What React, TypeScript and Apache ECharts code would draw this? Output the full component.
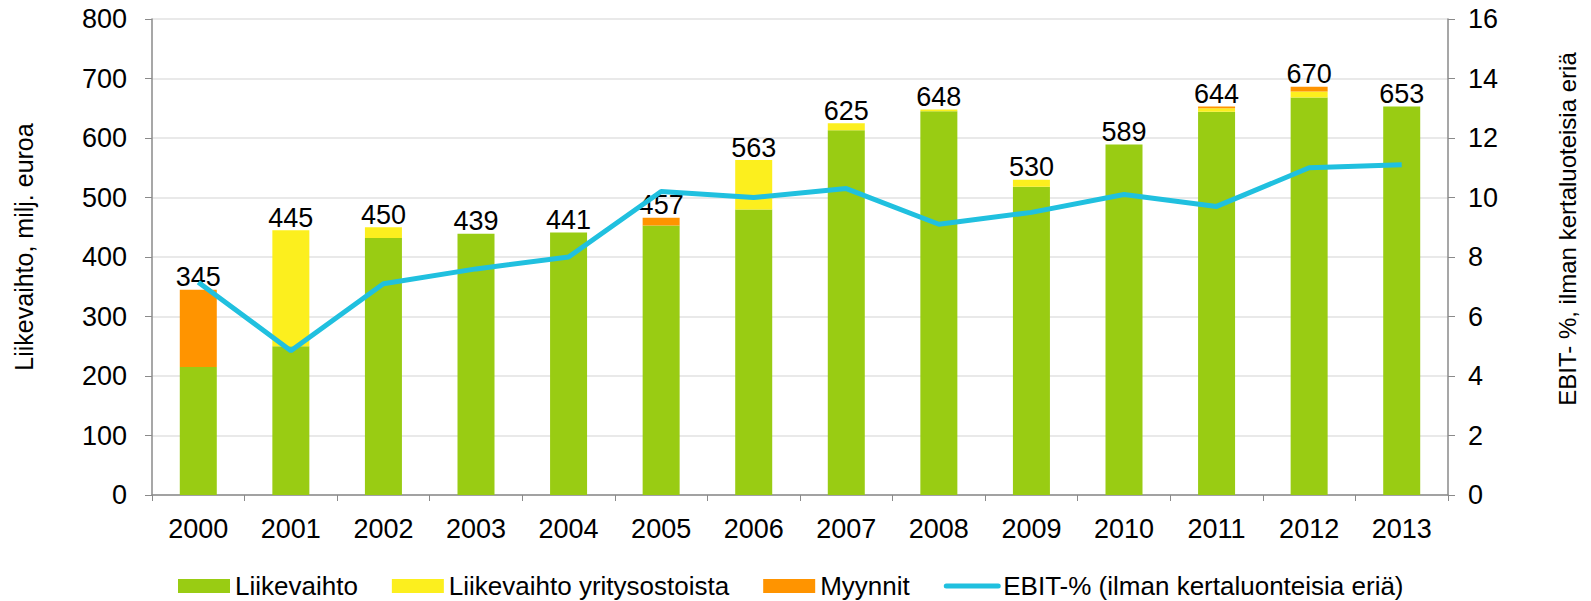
import React, { useEffect, useRef } from "react";
import * as echarts from "echarts";

const years = ["2000", "2001", "2002", "2003", "2004", "2005", "2006", "2007", "2008", "2009", "2010", "2011", "2012", "2013"];
const liikevaihto = [215, 250, 432, 439, 441, 453, 480, 613, 645, 518, 589, 644, 668, 653];
const yritysostoista = [0, 195, 18, 0, 0, 0, 83, 12, 3, 12, 0, 6, 10, 0];
const myynnit = [130, 0, 0, 0, 0, 13, 0, 0, 0, 0, 0, 3, 8, 0];
const totals = [345, 445, 450, 439, 441, 457, 563, 625, 648, 530, 589, 644, 670, 653];
const ebit = [7.15, 4.85, 7.1, 7.6, 8.0, 10.2, 10.0, 10.3, 9.1, 9.5, 10.1, 9.7, 11.0, 11.1];

const FONT = "'Liberation Sans', Arial, sans-serif";

export default function App() {
  const ref = useRef<HTMLDivElement>(null);
  useEffect(() => {
    document.body.style.margin = "0";
    const chart = echarts.init(ref.current!, null, { renderer: "svg" });
    const axisLineColor = "#8a8a8a";
    chart.setOption({
      animation: false,
      textStyle: { fontFamily: FONT },
      grid: { left: 152, right: 143, top: 19, bottom: 106, containLabel: false },
      legend: {
        left: 173,
        top: 568,
        itemWidth: 52,
        itemHeight: 14,
        itemGap: 34,
        textStyle: { fontSize: 26, color: "#000", fontFamily: FONT },
        data: [
          { name: "Liikevaihto", icon: "rect" },
          { name: "Liikevaihto yritysostoista", icon: "rect" },
          { name: "Myynnit", icon: "rect" },
          {
            name: "EBIT-% (ilman kertaluonteisia eriä)",
            itemStyle: { opacity: 0 },
            lineStyle: { width: 5, color: "#20C0DF", cap: "round" },
          },
        ],
      },
      xAxis: {
        type: "category",
        data: years,
        axisLine: { lineStyle: { color: axisLineColor, width: 1.5 } },
        axisTick: { show: true, length: 6, lineStyle: { color: axisLineColor } },
        axisLabel: { fontSize: 27, color: "#000", margin: 20, fontFamily: FONT },
      },
      yAxis: [
        {
          type: "value",
          min: 0,
          max: 800,
          interval: 100,
          axisLine: { show: true, lineStyle: { color: axisLineColor, width: 1.5 } },
          axisTick: { show: true, length: 7, lineStyle: { color: axisLineColor } },
          axisLabel: { fontSize: 27, color: "#000", margin: 25, fontFamily: FONT },
          splitLine: { lineStyle: { color: "#e2e2e2", width: 1.5 } },
        },
        {
          type: "value",
          min: 0,
          max: 16,
          interval: 2,
          axisLine: { show: true, lineStyle: { color: axisLineColor, width: 1.5 } },
          axisTick: { show: true, length: 7, lineStyle: { color: axisLineColor } },
          axisLabel: { fontSize: 27, color: "#000", margin: 20, fontFamily: FONT },
          splitLine: { show: false },
        },
      ],
      graphic: [
        {
          type: "text",
          x: 24,
          y: 247,
          rotation: Math.PI / 2,
          style: {
            text: "Liikevaihto, milj. euroa",
            fontSize: 25,
            fontFamily: FONT,
            fill: "#000",
            textAlign: "center",
            textVerticalAlign: "middle",
          },
        },
        {
          type: "text",
          x: 1567,
          y: 229,
          rotation: Math.PI / 2,
          style: {
            text: "EBIT- %, ilman kertaluoteisia eriä",
            fontSize: 24,
            fontFamily: FONT,
            fill: "#000",
            textAlign: "center",
            textVerticalAlign: "middle",
          },
        },
      ],
      series: [
        {
          name: "Liikevaihto",
          type: "bar",
          stack: "total",
          barWidth: 37,
          itemStyle: { color: "#99CC13" },
          data: liikevaihto,
        },
        {
          name: "Liikevaihto yritysostoista",
          type: "bar",
          stack: "total",
          barWidth: 37,
          itemStyle: { color: "#FCEF1E" },
          data: yritysostoista,
        },
        {
          name: "Myynnit",
          type: "bar",
          stack: "total",
          barWidth: 37,
          itemStyle: { color: "#FF9400" },
          data: myynnit,
          label: {
            show: true,
            position: "top",
            distance: -1,
            fontSize: 27,
            color: "#000",
            fontFamily: FONT,
            formatter: (p: any) => String(totals[p.dataIndex]),
          },
        },
        {
          name: "EBIT-% (ilman kertaluonteisia eriä)",
          type: "line",
          yAxisIndex: 1,
          symbol: "none",
          z: 5,
          itemStyle: { color: "#20C0DF" },
          lineStyle: { color: "#20C0DF", width: 5 },
          data: ebit,
        },
      ],
    });
    return () => chart.dispose();
  }, []);
  return <div ref={ref} style={{ width: 1591, height: 601 }} />;
}
